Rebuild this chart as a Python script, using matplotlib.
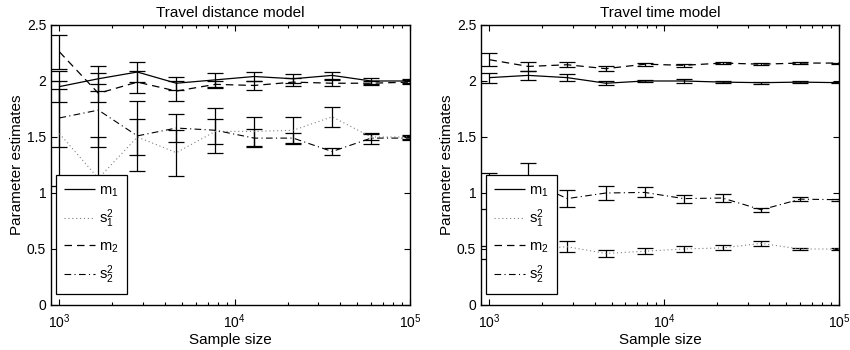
import matplotlib
matplotlib.use('Agg')
from matplotlib import pyplot as plt
from matplotlib.ticker import LogLocator, NullFormatter, FixedLocator

plt.rcParams['font.family'] = ['Liberation Sans', 'DejaVu Sans']
plt.rcParams['mathtext.fontset'] = 'custom'
plt.rcParams['mathtext.rm'] = 'Liberation Sans'
plt.rcParams['mathtext.it'] = 'Liberation Sans:italic'
plt.rcParams['mathtext.bf'] = 'Liberation Sans:bold'

# sample sizes (log spaced, 10 points)
sizes = [1000, 1668, 2783, 4642, 7743, 12915, 21544, 35938, 59948, 100000]

# Travel distance model
dist_m1 = [1.95, 2.02, 2.08, 1.98, 2.01, 2.04, 2.02, 2.05, 2.00, 2.00]
dist_m1_err = [0.14, 0.11, 0.09, 0.06, 0.06, 0.04, 0.04, 0.03, 0.03, 0.015]
dist_s1 = [1.53, 1.13, 1.50, 1.36, 1.55, 1.55, 1.56, 1.68, 1.50, 1.50]
dist_s1_err = [0.47, 0.37, 0.165, 0.205, 0.115, 0.13, 0.115, 0.09, 0.03, 0.015]
dist_m2 = [2.26, 1.89, 1.99, 1.91, 1.97, 1.96, 1.99, 1.98, 1.98, 1.99]
dist_m2_err = [0.15, 0.08, 0.10, 0.09, 0.03, 0.04, 0.035, 0.025, 0.02, 0.015]
dist_s2 = [1.67, 1.74, 1.51, 1.58, 1.56, 1.49, 1.49, 1.37, 1.49, 1.49]
dist_s2_err = [0.26, 0.33, 0.31, 0.125, 0.2, 0.08, 0.05, 0.035, 0.05, 0.015]

# Travel time model
time_m1 = [2.03, 2.05, 2.03, 1.98, 2.00, 2.00, 1.99, 1.985, 1.99, 1.985]
time_m1_err = [0.045, 0.037, 0.03, 0.02, 0.012, 0.015, 0.01, 0.01, 0.008, 0.005]
time_s1 = [0.47, 0.50, 0.52, 0.46, 0.48, 0.50, 0.51, 0.55, 0.50, 0.50]
time_s1_err = [0.06, 0.06, 0.048, 0.033, 0.027, 0.025, 0.022, 0.02, 0.012, 0.008]
time_m2 = [2.19, 2.13, 2.145, 2.11, 2.15, 2.14, 2.16, 2.15, 2.16, 2.16]
time_m2_err = [0.06, 0.037, 0.023, 0.02, 0.013, 0.015, 0.01, 0.008, 0.006, 0.005]
time_s2 = [1.02, 1.11, 0.95, 1.00, 1.005, 0.95, 0.955, 0.85, 0.945, 0.94]
time_s2_err = [0.16, 0.16, 0.075, 0.063, 0.045, 0.035, 0.033, 0.02, 0.015, 0.01]

labels = ['m$_1$', 's$_1^2$', 'm$_2$', 's$_2^2$']
styles = [(0, ()), (0, (1, 2.5)), (0, (6, 4)), (0, (6, 3, 1, 3))]
line_colors = ['black', '0.5', 'black', 'black']
line_widths = [0.9, 0.8, 0.9, 0.8]
yticks = [0, 0.5, 1, 1.5, 2, 2.5]
ytick_labels = ['0', '0.5', '1', '1.5', '2', '2.5']


def draw_panel(ax, series, title):
    handles = []
    for (vals, errs), ls, c, w, lab in zip(series, styles, line_colors,
                                           line_widths, labels):
        ax.errorbar(sizes, vals, yerr=errs, fmt='none', ecolor='black',
                    elinewidth=0.9, capsize=5.8, capthick=0.9, zorder=2)
        line, = ax.plot(sizes, vals, color=c, lw=w, linestyle=ls,
                        label=lab, zorder=3)
        handles.append(line)
    ax.set_xscale('log')
    ax.set_xlim(895, 1e5)
    ax.set_ylim(0, 2.5)
    ax.yaxis.set_major_locator(FixedLocator(yticks))
    ax.set_yticklabels(ytick_labels)
    ax.xaxis.set_major_locator(LogLocator(base=10, numticks=10))
    ax.xaxis.set_minor_locator(LogLocator(base=10, subs=range(2, 10), numticks=20))
    ax.xaxis.set_minor_formatter(NullFormatter())
    ax.tick_params(which='both', direction='in', top=True, right=True,
                   labelsize=10, width=0.8)
    ax.tick_params(which='major', length=4.5)
    ax.tick_params(which='minor', length=2.5)
    ax.tick_params(axis='x', pad=5)
    for sp in ax.spines.values():
        sp.set_linewidth(1.0)
    ax.set_title(title, fontsize=11, pad=6)
    ax.set_xlabel('Sample size', fontsize=11, labelpad=2)
    ax.set_ylabel('Parameter estimates', fontsize=11, labelpad=2)
    leg = ax.legend(handles=handles, loc='lower left',
                    bbox_to_anchor=(0.014, 0.038), fontsize=10.5,
                    handlelength=2.1, handletextpad=0.3, labelspacing=0.62,
                    borderpad=0.55, borderaxespad=0, fancybox=False,
                    framealpha=1, edgecolor='black')
    leg.get_frame().set_linewidth(0.9)
    leg.set_zorder(5)


fig = plt.figure(figsize=(8.5, 3.5), dpi=100)
ax1 = fig.add_axes([0.060, 0.1286, 0.4224, 0.80])
ax2 = fig.add_axes([0.5659, 0.1286, 0.4212, 0.80])

draw_panel(ax1, [(dist_m1, dist_m1_err), (dist_s1, dist_s1_err),
                 (dist_m2, dist_m2_err), (dist_s2, dist_s2_err)],
           'Travel distance model')
draw_panel(ax2, [(time_m1, time_m1_err), (time_s1, time_s1_err),
                 (time_m2, time_m2_err), (time_s2, time_s2_err)],
           'Travel time model')

fig.savefig('out.png', dpi=100)
